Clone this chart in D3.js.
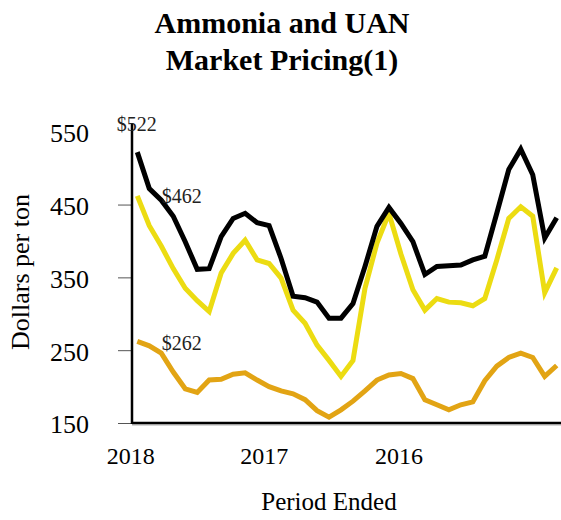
<!DOCTYPE html>
<html>
<head>
<meta charset="utf-8">
<script src="https://cdn.jsdelivr.net/npm/d3@7"></script>
<style>
  html, body { margin: 0; padding: 0; background: #fff; }
  svg { display: block; font-family: "Liberation Serif", "Times New Roman", serif; }
</style>
</head>
<body>
<svg id="chart" width="561" height="520"></svg>
<script>
// ---- data ----
const titleLines = ["Ammonia and UAN", "Market Pricing(1)"];
const yTicks = [550, 450, 350, 250, 150];
const yearLabels = ["2018", "2017", "2016"];
const yearTickIndex = [-0.58, 10.55, 21.79];
const seriesNames = ["Ammonia", "UAN", "Other"];
const ammonia = [522, 472, 456, 434, 399, 361, 362, 406, 431, 438, 425, 421, 376, 324, 322, 316, 294, 294, 314, 365, 420, 446, 424, 399, 354, 365, 366, 367, 374, 379, 438, 498, 526, 491, 404, 432];
const uan = [462, 421, 393, 362, 335, 318, 303, 356, 383, 401, 374, 369, 349, 305, 287, 257, 236, 214, 236, 335, 397, 438, 382, 333, 305, 321, 316, 315, 311, 321, 374, 431, 447, 434, 329, 363];
const third = [262, 256, 246, 220, 197, 192, 209, 210, 217, 219, 209, 200, 194, 190, 182, 167, 158, 168, 180, 194, 209, 216, 218, 211, 182, 175, 168, 175, 179, 208, 228, 240, 246, 240, 214, 229];
const startLabels = ["$522", "$462", "$262"];

// ---- layout ----
const svg = d3.select("#chart");
const axisX = 132, axisBottom = 423, axisTop = 123;
const x = d3.scaleLinear().domain([0, ammonia.length - 1]).range([137.3, 556.7]);
const y = d3.scaleLinear().domain([150, 562]).range([axisBottom, axisTop]);

// title
svg.append("g").selectAll("text").data(titleLines).join("text")
  .attr("x", 282).attr("y", (d, i) => 33 + i * 37)
  .attr("text-anchor", "middle")
  .attr("font-size", 30).attr("font-weight", "bold")
  .text(d => d);

// y axis
const yAxis = d3.axisLeft(y).tickValues(yTicks).tickSize(14).tickPadding(29).tickFormat(d3.format("d"));
const gy = svg.append("g").attr("transform", `translate(${axisX},0)`).call(yAxis)
  .attr("font-family", null);
gy.select(".domain").remove();
gy.selectAll(".tick line").attr("stroke", "#555").attr("stroke-width", 1)
  .filter(d => d === 550).remove();
gy.selectAll(".tick text").attr("font-size", 26).attr("fill", "#000").attr("dy", "0.38em");

// x axis labels
const xAxis = d3.axisBottom(x).tickValues(yearTickIndex).tickSize(0).tickPadding(24)
  .tickFormat((d, i) => yearLabels[i]);
const gx = svg.append("g").attr("transform", `translate(0,${axisBottom})`).call(xAxis)
  .attr("font-family", null);
gx.select(".domain").remove();
gx.selectAll(".tick text").attr("font-size", 24).attr("fill", "#000");

// axis lines
svg.append("line").attr("x1", axisX).attr("x2", 561).attr("y1", axisBottom + 2).attr("y2", axisBottom + 2)
  .attr("stroke", "#c8c8c8").attr("stroke-width", 1.5);
svg.append("line").attr("x1", axisX).attr("x2", 561).attr("y1", axisBottom).attr("y2", axisBottom)
  .attr("stroke", "#000").attr("stroke-width", 2.5);
svg.append("line").attr("x1", axisX).attr("x2", axisX).attr("y1", axisTop).attr("y2", axisBottom + 1)
  .attr("stroke", "#000").attr("stroke-width", 2.5);

// axis titles
svg.append("text").attr("transform", `translate(29,272) rotate(-90)`)
  .attr("text-anchor", "middle").attr("font-size", 26).text("Dollars per ton");
svg.append("text").attr("x", 329).attr("y", 510)
  .attr("text-anchor", "middle").attr("font-size", 25).text("Period Ended");

// lines
const line = d3.line().x((d, i) => x(i)).y(d => y(d));
const allSeries = [third, uan, ammonia];
const colors = ["#e2a414", "#ecdc12", "#000000"];
svg.append("g").selectAll("path").data(allSeries).join("path")
  .attr("d", d => line(d))
  .attr("fill", "none")
  .attr("stroke", (d, i) => colors[i])
  .attr("stroke-width", 5)
  .attr("stroke-linejoin", "miter");

// start labels
const labelSeries = [ammonia, uan, third];
const offsets = [[-20.6, -21], [24.4, 7], [24.4, 9]];
svg.append("g").selectAll("text").data(labelSeries).join("text")
  .attr("x", (d, i) => x(0) + offsets[i][0])
  .attr("y", (d, i) => y(d[0]) + offsets[i][1])
  .attr("font-size", 20).attr("fill", "#222")
  .text((d, i) => startLabels[i]);
</script>
</body>
</html>
